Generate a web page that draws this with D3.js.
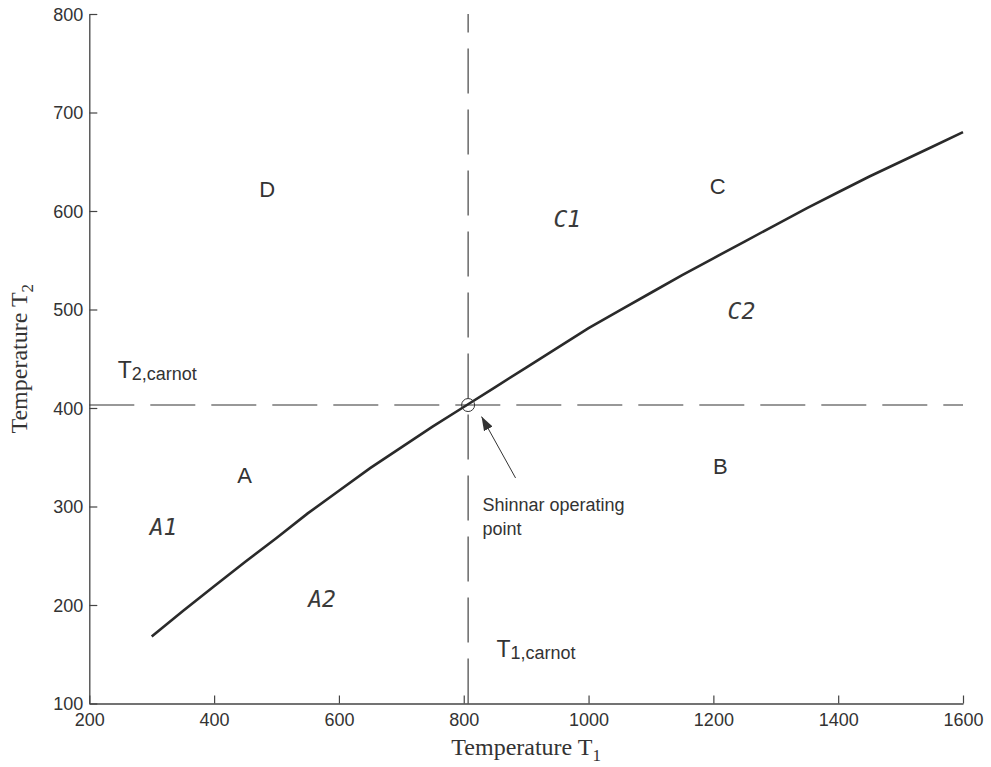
<!DOCTYPE html>
<html><head><meta charset="utf-8">
<script src="https://cdn.jsdelivr.net/npm/d3@7"></script>
<style>body{margin:0;background:#fff}svg{display:block}</style>
</head><body>
<script>
// ---- data ----
const T1 = [300, 350, 400, 450, 500, 550, 600, 650, 700, 750, 800, 850, 900, 950, 1000, 1050, 1100, 1150, 1200, 1250, 1300, 1350, 1400, 1450, 1500, 1550, 1600];
const T2 = [168, 194, 219, 244, 268, 293, 316, 339, 360, 381, 401, 421, 441, 461, 481, 499, 517, 535, 552, 569, 586, 603, 619, 635, 650, 665, 680];
const xTicks = [200, 400, 600, 800, 1000, 1200, 1400, 1600];
const yTicks = [100, 200, 300, 400, 500, 600, 700, 800];
const T1carnot = 807;
const T2carnot = 403;
const regionLabels = ["D", "C", "A", "B"];
const regionT1 = [485, 1207, 449, 1211];
const regionT2 = [614, 617, 324, 333];
const subLabels = ["C1", "C2", "A1", "A2"];
const subT1 = [966, 1245, 319, 573];
const subT2 = [584, 490, 271, 198];

const W = 991, H = 767;
const svg = d3.select("body").append("svg").attr("width", W).attr("height", H);
const x = d3.scaleLinear().domain([200, 1600]).range([89.3, 963]);
const y = d3.scaleLinear().domain([100, 800]).range([703.5, 14]);
const ink = "#333";
const sans = "'Liberation Sans', Arial, Helvetica, sans-serif";
const serif = "'Liberation Serif', 'Times New Roman', serif";

// axes
const gx = svg.append("g").attr("transform", `translate(0,${y(100)})`)
  .call(d3.axisBottom(x).tickValues(xTicks).tickSizeInner(-8).tickSizeOuter(0).tickPadding(10).tickFormat(d3.format("d")));
const gy = svg.append("g").attr("transform", `translate(${x(200)},0)`)
  .call(d3.axisLeft(y).tickValues(yTicks).tickSizeInner(-8).tickSizeOuter(0).tickPadding(6).tickFormat(d3.format("d")));
[gx, gy].forEach(g => {
  g.select(".domain").attr("stroke", "#444").attr("stroke-width", 1.3);
  g.selectAll(".tick line").attr("stroke", "#444").attr("stroke-width", 1.2);
  g.selectAll(".tick text").attr("fill", ink).style("font-family", sans).style("font-size", "18px");
});
gy.selectAll(".tick text").attr("dy", "0.35em");

// dashed Carnot lines
svg.append("line")
  .attr("x1", x(200)).attr("x2", x(1600)).attr("y1", y(T2carnot)).attr("y2", y(T2carnot))
  .attr("stroke", ink).attr("stroke-width", 1.1).attr("stroke-dasharray", "45,16");
svg.append("line")
  .attr("x1", x(T1carnot)).attr("x2", x(T1carnot)).attr("y1", y(100)).attr("y2", y(800))
  .attr("stroke", ink).attr("stroke-width", 1.1).attr("stroke-dasharray", "45,16");

// curve
const pts = T1.map((t, i) => [t, T2[i]]);
svg.append("path").datum(pts)
  .attr("d", d3.line().x(d => x(d[0])).y(d => y(d[1])))
  .attr("fill", "none").attr("stroke", "#2a2a2a").attr("stroke-width", 2.6);

// operating point
svg.append("circle").attr("cx", x(T1carnot)).attr("cy", y(T2carnot)).attr("r", 6.5)
  .attr("fill", "none").attr("stroke", ink).attr("stroke-width", 1);

// arrow
svg.append("defs").append("marker").attr("id", "ah").attr("viewBox", "0 0 10 10")
  .attr("refX", 10).attr("refY", 5).attr("markerWidth", 14).attr("markerHeight", 14)
  .attr("markerUnits", "userSpaceOnUse").attr("orient", "auto")
  .append("path").attr("d", "M0,1.5 L10,5 L0,8.5 Z").attr("fill", ink);
svg.append("line").attr("x1", x(883)).attr("y1", y(329)).attr("x2", x(828.5)).attr("y2", y(391.3))
  .attr("stroke", ink).attr("stroke-width", 1).attr("marker-end", "url(#ah)");

// region labels
svg.selectAll("text.reg").data(regionLabels).join("text").attr("class", "reg")
  .attr("x", (d, i) => x(regionT1[i])).attr("y", (d, i) => y(regionT2[i]))
  .attr("text-anchor", "middle").attr("fill", ink)
  .style("font-family", sans).style("font-size", "22px").text(d => d);
svg.selectAll("text.sub").data(subLabels).join("text").attr("class", "sub")
  .attr("x", (d, i) => x(subT1[i])).attr("y", (d, i) => y(subT2[i]))
  .attr("text-anchor", "middle").attr("fill", "#3a3a3a")
  .style("font-family", "'DejaVu Sans Mono', monospace").style("font-style", "italic")
  .style("font-size", "23px").text(d => d);

// carnot labels
function carnot(t1, t2, sub) {
  const t = svg.append("text").attr("x", x(t1)).attr("y", y(t2)).attr("fill", ink)
    .style("font-family", sans).style("font-size", "23px");
  t.append("tspan").text("T");
  t.append("tspan").attr("dy", 2).style("font-size", "18px").text(sub);
}
carnot(245.5, 430.5, "2,carnot");
carnot(852.4, 147.5, "1,carnot");

// Shinnar label
const sh = svg.append("text").attr("fill", ink).style("font-family", sans).style("font-size", "18px");
sh.append("tspan").attr("x", x(830)).attr("y", y(295)).text("Shinnar operating");
sh.append("tspan").attr("x", x(830)).attr("y", y(271)).text("point");

// axis titles
const xt = svg.append("text").attr("x", (x(200) + x(1600)) / 2).attr("y", 755)
  .attr("text-anchor", "middle").attr("fill", ink).style("font-family", serif).style("font-size", "24px");
xt.append("tspan").text("Temperature T");
xt.append("tspan").attr("dy", 6).style("font-size", "17px").text("1");
const yt = svg.append("text").attr("transform", `translate(27,${(y(100) + y(800)) / 2}) rotate(-90)`)
  .attr("text-anchor", "middle").attr("fill", ink).style("font-family", serif).style("font-size", "24px");
yt.append("tspan").text("Temperature T");
yt.append("tspan").attr("dy", 6).style("font-size", "17px").text("2");
</script>
</body></html>
